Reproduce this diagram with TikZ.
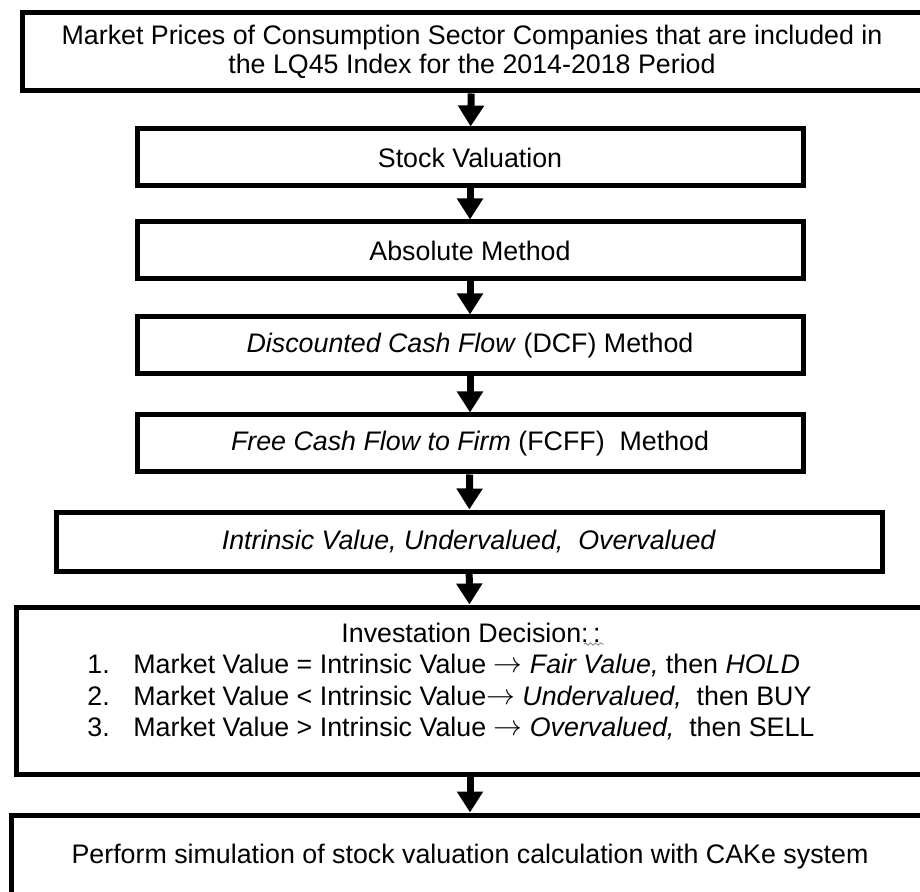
\documentclass[tikz,border=0pt]{standalone}
\usepackage{fontspec}
\setmainfont{Liberation Sans}
\usetikzlibrary{arrows.meta,positioning,decorations.pathmorphing}
\tikzset{
	flowbox/.style={rectangle,draw,line width=2.5pt,inner sep=0,align=center,font=\fontsize{13.4}{14.5}\selectfont},
	diredge/.style={-{Triangle[width=12.5pt,length=10.5pt]},line width=3.5pt,color=black},
	decisiontext/.style={inner sep=0,font=\fontsize{13.4}{15.75}\selectfont},
	squiggle/.style={gray,line width=.4pt,decorate,decoration={snake,amplitude=.6pt,segment length=2.5pt}}
}
\newcommand{\itemno}[1]{\makebox[23pt][l]{#1}}
\newcommand{\thenarrow}{\raisebox{.3pt}{$\rightarrow$}}

\begin{document}
\begin{tikzpicture}[x=.5pt,y=-.5pt]
	\useasboundingbox (0,0) rectangle (920,892);
	\clip (0,0) rectangle (920,892);
	
	\node[flowbox,minimum width=450pt,minimum height=39.25pt] (Prices) at (472,51.75)
		{Market Prices of Consumption Sector Companies that are included in\\the LQ45 Index for the 2014-2018 Period};
	\node[flowbox,minimum width=333pt,minimum height=28.5pt] (Valuation) at (470,157.5) {Stock Valuation};
	\node[flowbox,minimum width=333pt,minimum height=28.5pt] (Absolute) at (470,250.5) {Absolute Method};
	\node[flowbox,minimum width=333pt,minimum height=28.5pt] (DCF) at (470,345.5) {\textit{Discounted Cash Flow} (DCF) Method};
	\node[flowbox,minimum width=333pt,minimum height=28.5pt] (FCFF) at (470,443.5) {\textit{Free Cash Flow to Firm} (FCFF)\ \ Method};
	\node[flowbox,minimum width=413pt,minimum height=29.5pt] (Intrinsic) at (469,541.5) {\textit{Intrinsic Value, Undervalued,\ \ Overvalued}};
	\node[flowbox,minimum width=454pt,minimum height=83.5pt] (Decision) at (470,690.5) {};
	\node[flowbox,minimum width=459pt,minimum height=42pt] (Simulation) at (470,857) {Perform simulation of stock valuation calculation with CAKe system};
	
	% decision box text
	\node[decisiontext] (DecTitle) at (471,633) {Investation Decision:\,:};
	\node[decisiontext,align=left,anchor=west] (DecList) at (87,697)
		{\itemno{1.}Market Value = Intrinsic Value \thenarrow{} \textit{Fair Value,} then \textit{HOLD}\\
		 \itemno{2.}Market Value < Intrinsic Value\thenarrow{} \textit{Undervalued,}\ \ then BUY\\
		 \itemno{3.}Market Value > Intrinsic Value \thenarrow{} \textit{Overvalued,}\ \ then SELL};
	\draw[squiggle] (584,644) -- (604,644);
	
	\draw[diredge] (Prices) -- (Valuation);
	\draw[diredge] (Valuation) -- (Absolute);
	\draw[diredge] (Absolute) -- (DCF);
	\draw[diredge] (DCF) -- (FCFF);
	\draw[diredge] (FCFF) -- (Intrinsic);
	\draw[diredge] (Intrinsic) -- (Decision);
	\draw[diredge] (Decision) -- (Simulation);
\end{tikzpicture}
\end{document}
